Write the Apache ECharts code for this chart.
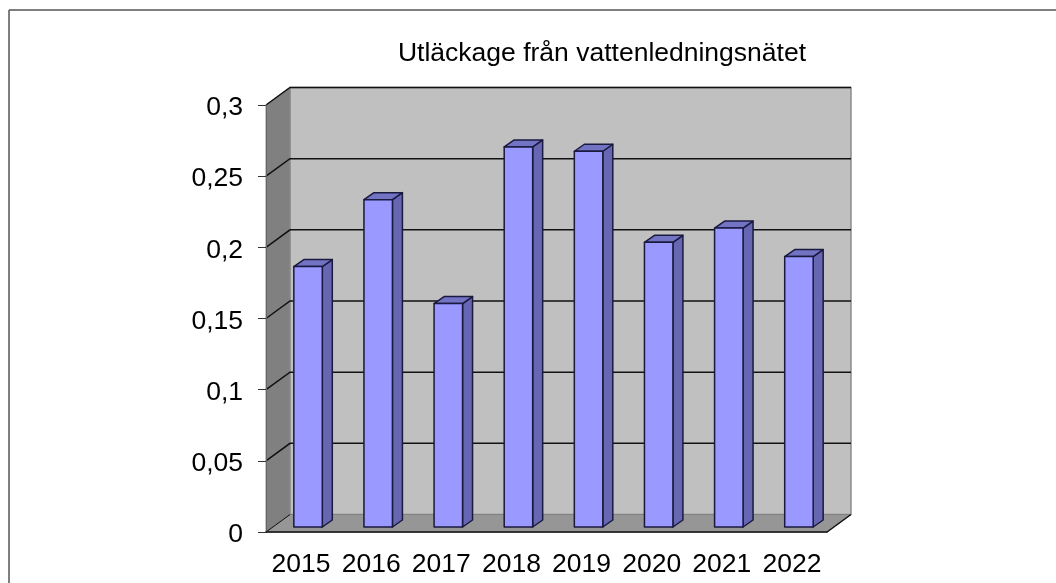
<!DOCTYPE html>
<html>
<head>
<meta charset="utf-8">
<title>Utläckage från vattenledningsnätet</title>
<script src="https://cdn.jsdelivr.net/npm/echarts@6/dist/echarts.min.js"></script>
<style>
html, body { margin: 0; padding: 0; background: #fff; }
#chart { width: 1056px; height: 583px; }
</style>
</head>
<body>
<div id="chart"></div>
<script>
var titleText = 'Utläckage från vattenledningsnätet';
var years = ['2015', '2016', '2017', '2018', '2019', '2020', '2021', '2022'];
var leakage = [0.183, 0.23, 0.157, 0.267, 0.264, 0.2, 0.21, 0.19];
var yTicks = [0, 0.05, 0.1, 0.15, 0.2, 0.25, 0.3];

// depth of the fake 3d box, px
var boxDx = 24, boxDy = -17.5;
// bars sit a bit inside the box
var barDx = 7, barDy = -5, barDepthX = 10, barDepthY = -7;

function poly(points, fill, stroke, width) {
    return {
        type: 'polygon',
        shape: { points: points },
        style: { fill: fill, stroke: stroke || null, lineWidth: width || 0, lineJoin: 'round' }
    };
}

function renderBox(params, api) {
    // category coords are band centres, so walk out half a band to get the edges
    var band = api.size([1, 0])[0];
    var xl = api.coord([0, 0])[0] - band / 2;
    var xr = api.coord([years.length - 1, 0])[0] + band / 2;
    var y0 = api.coord([0, 0])[1];
    var yMax = api.coord([0, yTicks[yTicks.length - 1]])[1];
    var a = [xl, y0], b = [xr, y0], top = [xl, yMax], topR = [xr, yMax];
    var kids = [
        poly([[a[0] + boxDx, a[1] + boxDy], [b[0] + boxDx, b[1] + boxDy], [topR[0] + boxDx, topR[1] + boxDy], [top[0] + boxDx, top[1] + boxDy]], '#c0c0c0', '#8c8c8c', 1.5),
        poly([a, [a[0] + boxDx, a[1] + boxDy], [top[0] + boxDx, top[1] + boxDy], top], '#808080', '#8c8c8c', 1),
        poly([a, b, [b[0] + boxDx, b[1] + boxDy], [a[0] + boxDx, a[1] + boxDy]], '#969696', '#808080', 1)
    ];
    yTicks.forEach(function (t) {
        if (t === 0) return;
        var y = api.coord([0, t])[1];
        kids.push({
            type: 'polyline',
            shape: { points: [[xl, y], [xl + boxDx, y + boxDy], [xr + boxDx, y + boxDy]] },
            style: { fill: null, stroke: '#111', lineWidth: 1.5 }
        });
    });
    kids.push({
        type: 'line',
        shape: { x1: b[0], y1: b[1], x2: b[0] + boxDx, y2: b[1] + boxDy },
        style: { stroke: '#111', lineWidth: 1.5 }
    });
    kids.push({
        type: 'line',
        shape: { x1: a[0], y1: a[1], x2: a[0] + boxDx, y2: a[1] + boxDy },
        style: { stroke: '#111', lineWidth: 1 }
    });
    return { type: 'group', children: kids };
}

function renderBar(params, api) {
    var i = api.value(0);
    var top = api.coord([i, api.value(1)]);
    var base = api.coord([i, 0]);
    var w = api.size([1, 0])[0] * 0.406;
    var x0 = top[0] + barDx - w / 2, x1 = x0 + w;
    var yt = top[1] + barDy, yb = base[1] + barDy;
    var s = '#1a1a40';
    return {
        type: 'group',
        children: [
            poly([[x1, yt], [x1 + barDepthX, yt + barDepthY], [x1 + barDepthX, yb + barDepthY], [x1, yb]], '#6666b3', s, 1.5),
            poly([[x0, yt], [x0 + barDepthX, yt + barDepthY], [x1 + barDepthX, yt + barDepthY], [x1, yt]], '#7373c4', s, 1.5),
            poly([[x0, yt], [x1, yt], [x1, yb], [x0, yb]], '#9999ff', s, 1.5)
        ]
    };
}

var chart = echarts.init(document.getElementById('chart'));
chart.setOption({
    animation: false,
    backgroundColor: '#fff',
    textStyle: { fontFamily: '"Liberation Sans", Arial, sans-serif' },
    title: {
        text: titleText,
        left: 597,
        top: 35,
        textAlign: 'center',
        textStyle: { fontFamily: '"Liberation Sans", Arial, sans-serif', fontSize: 26.5, fontWeight: 'normal', color: '#000' }
    },
    grid: { left: 266, top: 105, width: 561, height: 427 },
    xAxis: {
        type: 'category',
        data: years,
        z: 5,
        axisLine: { lineStyle: { color: '#111', width: 1.5 } },
        axisTick: { alignWithLabel: false, length: 7, lineStyle: { color: '#111', width: 1 } },
        axisLabel: { color: '#000', fontSize: 26.5, margin: 19, interval: 0 },
        splitLine: { show: false }
    },
    yAxis: {
        type: 'value',
        min: 0,
        max: 0.3,
        interval: 0.05,
        z: 5,
        axisLine: { show: true, lineStyle: { color: '#666', width: 1 } },
        axisTick: { show: true, length: 8, lineStyle: { color: '#333', width: 1 } },
        axisLabel: {
            color: '#000',
            margin: 23,
            // top padding on the rich box nudges the digits down to where the reference has them
            formatter: function (v) { return '{n|' + String(v).replace('.', ',') + '}'; },
            rich: { n: { fontSize: 26.5, color: '#000', padding: [6, 0, 0, 0] } }
        },
        splitLine: { show: false }
    },
    series: [
        { type: 'custom', name: 'box', z: 1, clip: false, silent: true, renderItem: renderBox, data: [[0, 0]], encode: { x: 0, y: 1 } },
        {
            type: 'custom', name: titleText, z: 2, clip: false, renderItem: renderBar,
            data: leakage.map(function (v, i) { return [i, v]; }),
            encode: { x: 0, y: 1 }
        }
    ],
    graphic: [
        { type: 'line', z: 10, shape: { x1: 9, y1: 10, x2: 1056, y2: 10 }, style: { stroke: '#555', lineWidth: 1.5 } },
        { type: 'line', z: 10, shape: { x1: 9, y1: 10, x2: 9, y2: 583 }, style: { stroke: '#555', lineWidth: 1.5 } }
    ]
});
</script>
</body>
</html>
